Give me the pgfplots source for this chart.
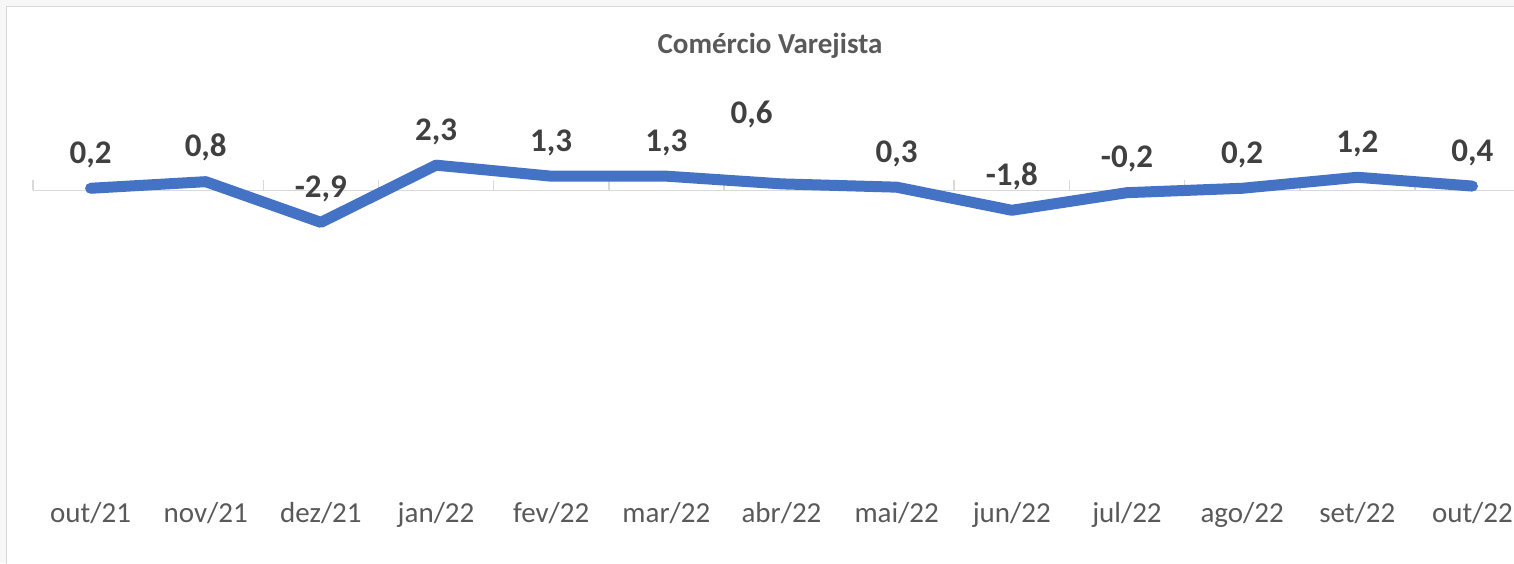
\documentclass[border=0pt]{standalone}
\usepackage{pgfplots}
\pgfplotsset{compat=1.18}
\usepackage{pgfplotstable}
\usepackage{fontspec}
\setmainfont{Carlito}
\definecolor{lineblue}{HTML}{4472C4}
\definecolor{labgray}{HTML}{404040}
\definecolor{tickgray}{HTML}{595959}
\definecolor{gridgray}{HTML}{D9D9D9}
\definecolor{bggray}{HTML}{F7F7F7}
\pgfplotstableread{
x y dx dy lab
0 0.2 0 12.5 0,2
1 0.8 0 12.5 0,8
2 -2.9 0 12.5 -2,9
3 2.3 0 12.5 2,3
4 1.3 0 12.5 1,3
5 1.3 0 12.5 1,3
6 0.6 -15 30.3 0,6
7 0.3 0 12.5 0,3
8 -1.8 0 12.5 -1,8
9 -0.2 0 12.5 -0,2
10 0.2 0 12.5 0,2
11 1.2 0 12.5 1,2
12 0.4 0 12.5 0,4
}\datatable
\begin{document}
\begin{tikzpicture}
\useasboundingbox (-16.5pt,-34pt) rectangle (740.5pt,247.5pt);
\fill[bggray] (-16.5pt,-34pt) rectangle (740.5pt,247.5pt);
\filldraw[fill=white, draw=gridgray, line width=0.9pt] (-13.25pt,-45pt) rectangle (750pt,244.25pt);
\begin{axis}[
  at={(0,0)}, anchor=south west,
  scale only axis,
  width=748.5pt, height=217.5pt,
  xmin=-0.5, xmax=12.5, ymin=-27.68, ymax=11.86,
  clip=false,
  axis line style={draw=none},
  major tick length=0pt,
  ytick=\empty,
  xtick={0,...,12},
  xticklabels={out/21,nov/21,dez/21,jan/22,fev/22,mar/22,abr/22,mai/22,jun/22,jul/22,ago/22,set/22,out/22},
  xticklabel style={font=\fontsize{14.5pt}{16pt}\selectfont, text=tickgray, anchor=base, yshift=-13.9pt, inner sep=0pt},
]
\draw[gridgray, line width=0.8pt] (axis cs:-0.5,0) -- (axis cs:12.5,0);
\pgfplotsinvokeforeach{-0.5,0.5,1.5,2.5,3.5,4.5,5.5,6.5,7.5,8.5,9.5,10.5,11.5,12.5}{
  \draw[gridgray, line width=0.8pt] (axis cs:#1,0) -- ([yshift=5pt]axis cs:#1,0);
}
\addplot[lineblue, line width=5.5pt, line cap=round, line join=round, mark=none,
  point meta=explicit symbolic,
  visualization depends on={\thisrow{dx}\as\dx},
  visualization depends on={\thisrow{dy}\as\dy},
  nodes near coords,
  nodes near coords style={anchor=base, inner sep=0pt, xshift=\dx pt, yshift=\dy pt,
    font=\bfseries\fontsize{16.5pt}{18pt}\selectfont, text=labgray},
] table[x=x, y=y, meta=lab] {\datatable};
\end{axis}
\node[anchor=base, font=\bfseries\fontsize{14.5pt}{16pt}\selectfont, text=tickgray, inner sep=0pt] at (368.5pt,220.85pt) {Comércio Varejista};
\end{tikzpicture}
\end{document}
